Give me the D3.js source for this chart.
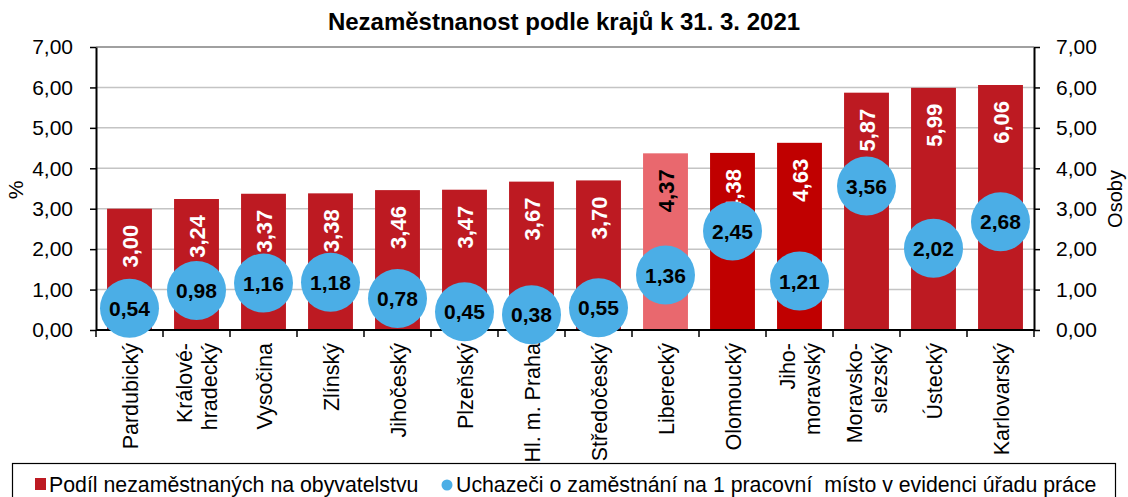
<!DOCTYPE html>
<html>
<head>
<meta charset="utf-8">
<script src="https://cdn.jsdelivr.net/npm/d3@7"></script>
<style>
  body { margin: 0; background: #fff; }
  svg { font-family: "Liberation Sans", Arial, sans-serif; }
</style>
</head>
<body>
<script>
// kraje (labels split in lines as in original)
var regions = [["Pardubický"], ["Králové-", "hradecký"], ["Vysočina"], ["Zlínský"], ["Jihočeský"],
	["Plzeňský"], ["Hl. m. Praha"], ["Středočeský"], ["Liberecký"], ["Olomoucký"],
	["Jiho-", "moravský"], ["Moravsko-", "slezský"], ["Ústecký"], ["Karlovarský"]];
var share = [3.00, 3.24, 3.37, 3.38, 3.46, 3.47, 3.67, 3.70, 4.37, 4.38, 4.63, 5.87, 5.99, 6.06];
var applicants = [0.54, 0.98, 1.16, 1.18, 0.78, 0.45, 0.38, 0.55, 1.36, 2.45, 1.21, 3.56, 2.02, 2.68];
var yTicks = [0, 1, 2, 3, 4, 5, 6, 7];

var W = 1128, H = 497;
var margin = {top: 47, right: 94, bottom: 167, left: 96},
	width = W - margin.left - margin.right,
	height = H - margin.top - margin.bottom;

var cz = d3.formatLocale({decimal: ",", thousands: " ", grouping: [3], currency: ["", " Kč"]});
var fmt = cz.format(".2f");

var svg = d3.select('body').append('svg')
	.attr('width', W)
	.attr('height', H);

// title
svg.append('text')
	.attr('x', 564).attr('y', 30)
	.attr('text-anchor', 'middle')
	.style('font-size', '24px').style('font-weight', 'bold')
	.text('Nezaměstnanost podle krajů k 31. 3. 2021');

var main = svg.append('g')
	.attr('transform', 'translate(' + margin.left + ',' + margin.top + ')');

var x = d3.scaleBand()
	.domain(d3.range(regions.length))
	.range([0, width])
	.paddingInner(0.33)
	.paddingOuter(0.165);

var y = d3.scaleLinear().domain([0, 7]).range([height, 0]);

// grid
main.append('g').selectAll('line')
	.data(yTicks.slice(1))
	.enter().append('line')
	.attr('x1', 0).attr('x2', width)
	.attr('y1', function(d) { return y(d); })
	.attr('y2', function(d) { return y(d); })
	.style('stroke', function(d) { return d == 7 ? '#808080' : '#c4c4c4'; })
	.style('stroke-width', 1.5);

// bars
var barColor = function(i) {
	if (i == 8) return '#e9686e';
	if (i == 9 || i == 10) return '#c00000';
	return '#bd1a22';
};
main.append('g').selectAll('rect')
	.data(share)
	.enter().append('rect')
	.attr('x', function(d, i) { return x(i); })
	.attr('width', x.bandwidth())
	.attr('y', function(d) { return y(d); })
	.attr('height', function(d) { return height - y(d); })
	.style('fill', function(d, i) { return barColor(i); });

// bar labels
main.append('g').selectAll('text')
	.data(share)
	.enter().append('text')
	.attr('transform', function(d, i) {
		return 'translate(' + (x(i) + x.bandwidth() / 2 + 8) + ',' + (y(d) + 16) + ') rotate(-90)';
	})
	.attr('text-anchor', 'end')
	.style('font-size', '22px').style('font-weight', 'bold')
	.style('fill', function(d, i) { return i == 8 ? '#000' : '#fff'; })
	.text(function(d) { return fmt(d); });

// axes
var yAxisL = d3.axisLeft(y).tickValues(yTicks).tickFormat(fmt).tickSize(6).tickSizeOuter(0);
var yAxisR = d3.axisRight(y).tickValues(yTicks).tickFormat(fmt).tickSize(6).tickSizeOuter(0);

var gl = main.append('g').call(yAxisL);
var gr = main.append('g').attr('transform', 'translate(' + width + ',0)').call(yAxisR);
[gl, gr].forEach(function(g) {
	g.select('.domain').style('stroke', '#000').style('stroke-width', 2);
	g.selectAll('.tick line').style('stroke', '#000').style('stroke-width', 1.5);
	g.selectAll('.tick text').style('font-size', '21px').style('fill', '#000');
});
gl.selectAll('.tick text').attr('x', -23);
gr.selectAll('.tick text').attr('x', 22);

// bottom axis
main.append('line')
	.attr('x1', 0).attr('x2', width).attr('y1', height).attr('y2', height)
	.style('stroke', '#000').style('stroke-width', 2);
main.append('g').selectAll('line')
	.data(d3.range(regions.length + 1))
	.enter().append('line')
	.attr('x1', function(d) { return d * x.step(); })
	.attr('x2', function(d) { return d * x.step(); })
	.attr('y1', height).attr('y2', height + 7)
	.style('stroke', '#000').style('stroke-width', 1.5);

// category labels
var cat = main.append('g').selectAll('text')
	.data(regions)
	.enter().append('text')
	.attr('transform', function(d, i) {
		var cx = x(i) + x.bandwidth() / 2 + 8 - (d.length - 1) * 12.5;
		return 'translate(' + cx + ',' + (height + 13) + ') rotate(-90)';
	})
	.attr('text-anchor', 'end')
	.style('font-size', '21.5px');
cat.selectAll('tspan')
	.data(function(d) { return d; })
	.enter().append('tspan')
	.attr('x', 0)
	.attr('dy', function(d, j) { return j == 0 ? 0 : 25; })
	.text(function(d) { return d; });

// circles
var dots = main.append('g').selectAll('g')
	.data(applicants)
	.enter().append('g')
	.attr('transform', function(d, i) {
		return 'translate(' + (x(i) + x.bandwidth() / 2) + ',' + y(d) + ')';
	});
dots.append('circle').attr('r', 29.5).style('fill', '#4baee6');
dots.append('text')
	.attr('text-anchor', 'middle').attr('dy', '0.36em')
	.style('font-size', '21px').style('font-weight', 'bold')
	.text(function(d) { return fmt(d); });

// axis titles
svg.append('text')
	.attr('transform', 'translate(23,190) rotate(-90)')
	.attr('text-anchor', 'middle')
	.style('font-size', '21px')
	.text('%');
svg.append('text')
	.attr('transform', 'translate(1122,199) rotate(-90)')
	.attr('text-anchor', 'middle')
	.style('font-size', '20px')
	.text('Osoby');

// legend
var leg = svg.append('g');
leg.append('rect')
	.attr('x', 12.5).attr('y', 463.5).attr('width', 1103).attr('height', 40)
	.style('fill', 'none').style('stroke', '#000').style('stroke-width', 1.2);
leg.append('rect')
	.attr('x', 35).attr('y', 478).attr('width', 11).attr('height', 12)
	.style('fill', '#bd1a22');
leg.append('text')
	.attr('x', 49).attr('y', 492)
	.style('font-size', '21.3px')
	.text('Podíl nezaměstnaných na obyvatelstvu');
leg.append('circle')
	.attr('cx', 447).attr('cy', 485).attr('r', 5.5)
	.style('fill', '#4baee6');
leg.append('text')
	.attr('x', 456).attr('y', 492)
	.style('font-size', '21.3px')
	.style('white-space', 'pre')
	.text('Uchazeči o zaměstnání na 1 pracovní  místo v evidenci úřadu práce');
</script>
</body>
</html>
